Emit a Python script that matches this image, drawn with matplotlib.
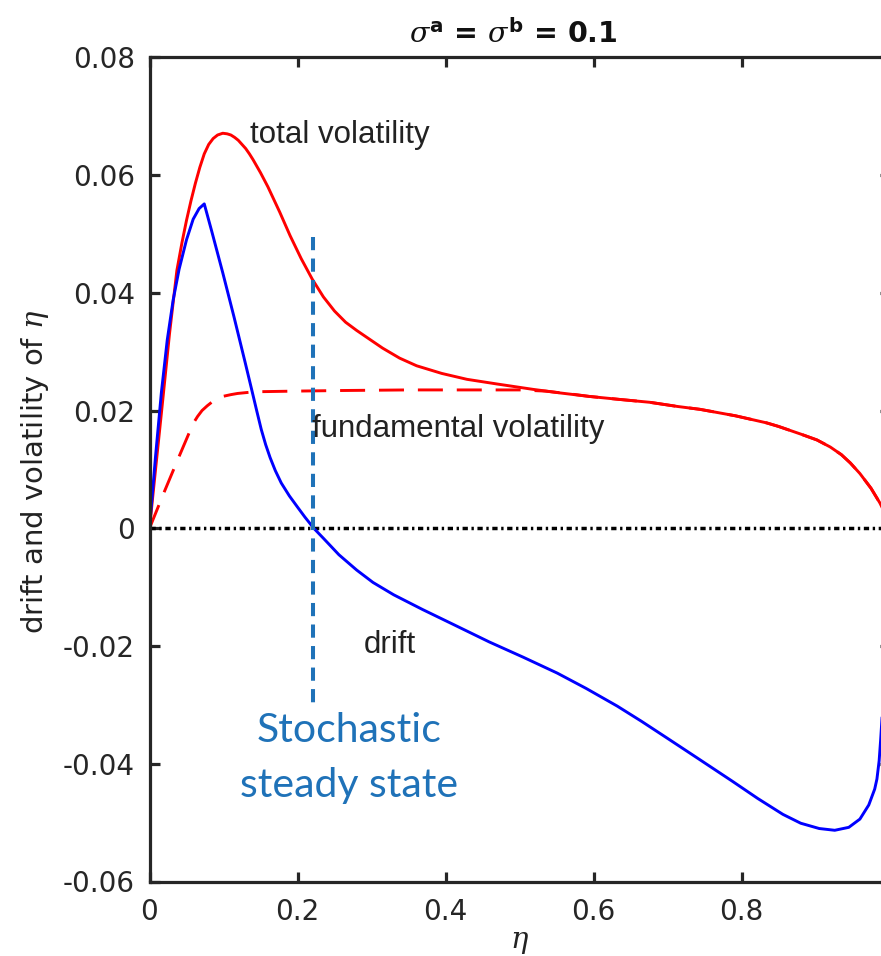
import matplotlib
matplotlib.use("Agg")
import matplotlib.pyplot as plt

# ---------------- data ----------------
eta_total = [0.0, 0.009, 0.018, 0.027, 0.037, 0.044, 0.050, 0.056, 0.062, 0.068,
             0.074, 0.080, 0.086, 0.092, 0.099, 0.105, 0.110, 0.115, 0.120, 0.125,
             0.130, 0.135, 0.140, 0.150, 0.160, 0.176, 0.190, 0.205, 0.220, 0.235,
             0.250, 0.265, 0.280, 0.294, 0.315, 0.338, 0.361, 0.395, 0.429, 0.470,
             0.518, 0.554, 0.594, 0.634, 0.676, 0.713, 0.744, 0.792, 0.834, 0.850,
             0.880, 0.902, 0.920, 0.935, 0.947, 0.960, 0.975, 0.987, 1.0]
total_vol = [0.0, 0.0110, 0.0219, 0.0330, 0.0438, 0.0486, 0.0523, 0.0556, 0.0586, 0.0613,
             0.0636, 0.0652, 0.0662, 0.0668, 0.0671, 0.0670, 0.0668, 0.0664, 0.0659, 0.0652,
             0.0645, 0.0636, 0.0626, 0.0604, 0.0580, 0.0537, 0.0497, 0.0458, 0.0423, 0.0393,
             0.0369, 0.0350, 0.0336, 0.0324, 0.0306, 0.0289, 0.0276, 0.0263, 0.0253, 0.0245,
             0.0236, 0.0230, 0.0224, 0.0219, 0.0214, 0.0207, 0.0202, 0.0191, 0.0179, 0.0173,
             0.0160, 0.0150, 0.0138, 0.0125, 0.0111, 0.0093, 0.0068, 0.0043, 0.0010]

eta_fund = [0.0, 0.020, 0.040, 0.059, 0.065, 0.071, 0.078, 0.084, 0.092, 0.099,
            0.110, 0.119, 0.135, 0.149, 0.198, 0.260, 0.350, 0.450, 0.500, 0.535,
            0.570, 0.594, 0.634, 0.676, 0.713, 0.744, 0.792, 0.834, 0.850, 0.880,
            0.902, 0.920, 0.935, 0.947, 0.960, 0.975, 0.987, 1.0]
fund_vol = [0.0, 0.0062, 0.0122, 0.0178, 0.0190, 0.0200, 0.0208, 0.0214, 0.0220, 0.0224,
            0.0227, 0.0229, 0.0231, 0.0232, 0.0233, 0.0234, 0.0235, 0.0235, 0.0235, 0.0233,
            0.0228, 0.0224, 0.0219, 0.0214, 0.0207, 0.0202, 0.0191, 0.0179, 0.0173, 0.0160,
            0.0150, 0.0138, 0.0125, 0.0111, 0.0093, 0.0068, 0.0043, 0.0010]

eta_drift = [0.0, 0.008, 0.016, 0.024, 0.032, 0.040, 0.050, 0.059, 0.067, 0.074,
             0.084, 0.099, 0.114, 0.129, 0.138, 0.145, 0.151, 0.157, 0.163, 0.170,
             0.178, 0.189, 0.200, 0.210, 0.222, 0.235, 0.256, 0.280, 0.302, 0.330,
             0.369, 0.410, 0.459, 0.505, 0.551, 0.590, 0.632, 0.665, 0.699, 0.740,
             0.788, 0.822, 0.856, 0.880, 0.905, 0.926, 0.945, 0.960, 0.972, 0.980,
             0.983, 0.986, 0.988, 0.991]
drift = [0.0, 0.0120, 0.0230, 0.0320, 0.0388, 0.0440, 0.0490, 0.0525, 0.0543, 0.0551,
         0.0505, 0.0434, 0.0360, 0.0283, 0.0236, 0.0199, 0.0168, 0.0142, 0.0120, 0.0098,
         0.0077, 0.0055, 0.0036, 0.0019, 0.0, -0.0017, -0.0045, -0.0071, -0.0092, -0.0113,
         -0.0138, -0.0163, -0.0193, -0.0219, -0.0246, -0.0272, -0.0302, -0.0328, -0.0356, -0.0390,
         -0.0430, -0.0459, -0.0486, -0.0501, -0.0510, -0.0513, -0.0508, -0.0494, -0.0470, -0.0443,
         -0.0426, -0.0395, -0.0360, -0.0300]

zero_x = [0.0, 1.0]
zero_y = [0.0, 0.0]

steady_x = [0.221, 0.221]
steady_y = [0.0495, -0.0297]

xticks = [0, 0.2, 0.4, 0.6, 0.8]
xtick_labels = ["0", "0.2", "0.4", "0.6", "0.8"]
yticks = [-0.06, -0.04, -0.02, 0, 0.02, 0.04, 0.06, 0.08]
ytick_labels = ["-0.06", "-0.04", "-0.02", "0", "0.02", "0.04", "0.06", "0.08"]

# ---------------- style ----------------
plt.rcParams["mathtext.fontset"] = "custom"
plt.rcParams["mathtext.it"] = "DejaVu Serif:italic"
plt.rcParams["mathtext.bf"] = "DejaVu Sans:bold"
plt.rcParams["mathtext.rm"] = "DejaVu Sans"
plt.rcParams["lines.scale_dashes"] = False
plt.rcParams["font.family"] = ["DejaVu Sans"]

W, H = 881, 956
fig = plt.figure(figsize=(W / 100, H / 100), dpi=100)
ax = fig.add_axes([149.5 / W, 1 - 881.5 / H, 740 / W, (881.5 - 57.3) / H])

ax.plot(zero_x, zero_y, color="black", lw=2.5, ls=(0, (3.8, 2.6, 1.7, 2.6)))
ax.plot(eta_fund, fund_vol, color="#ff0000", lw=2.1, ls=(0, (18, 10)),
        solid_joinstyle="round", dash_joinstyle="round")
ax.plot(eta_total, total_vol, color="#ff0000", lw=2.1, solid_joinstyle="round")
ax.plot(eta_drift, drift, color="#0000ff", lw=2.1, solid_joinstyle="round")
ax.plot(steady_x, steady_y, color="#1f72b8", lw=2.9, ls=(0, (9.5, 6)))

ax.set_xlim(0, 1)
ax.set_ylim(-0.06, 0.08)
ax.set_xticks(xticks)
ax.set_xticklabels(xtick_labels)
ax.set_yticks(yticks)
ax.set_yticklabels(ytick_labels)

for s in ax.spines.values():
    s.set_linewidth(2.3)
    s.set_color("#262626")
ax.tick_params(direction="in", length=7.5, width=2.3, top=True, right=True,
               colors="#262626", labelsize=20)
ax.tick_params(axis="x", pad=12)
ax.tick_params(axis="y", pad=10.5)

# annotations
ann_kw = dict(fontsize=22.5, color="#222222", family=["Liberation Sans", "DejaVu Sans"],
              va="baseline", ha="left")
ax.text(0.1355, 0.0654, "total volatility", **ann_kw)
ax.text(0.219, 0.0155, "fundamental volatility", **ann_kw)
ax.text(0.289, -0.0212, "drift", **ann_kw)

ss_kw = dict(fontsize=29.5, color="#1f72b8", family=["Lato", "DejaVu Sans"],
             va="baseline", ha="center")
ax.text(0.27, -0.03625, "Stochastic", **ss_kw)
ax.text(0.27, -0.0456, "steady state", **ss_kw)

# title and axis labels
fig.text(513 / W, 1 - 43 / H, r"$\sigma^{\mathbf{a}}$ = $\sigma^{\mathbf{b}}$ = 0.1",
         ha="center", va="baseline", fontsize=20.5, fontweight="bold", color="#111111")
fig.text(35 / W, 1 - 472 / H, r"drift and volatility of $\eta$", rotation=90,
         ha="center", va="center", fontsize=21, color="#222222")
fig.text(520 / W, 1 - 942 / H, r"$\eta$", ha="center", va="center", fontsize=21,
         color="#222222")

fig.savefig("out.png", dpi=100)
